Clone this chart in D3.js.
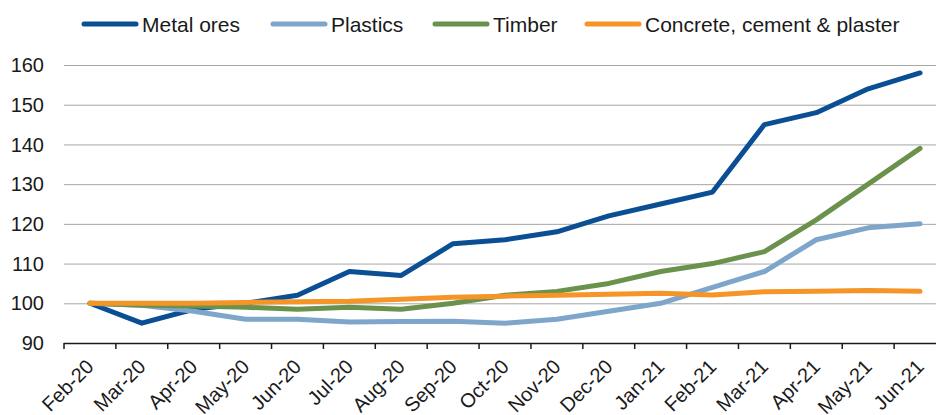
<!DOCTYPE html>
<html>
<head>
<meta charset="utf-8">
<script src="https://cdn.jsdelivr.net/npm/d3@7"></script>
<style>
	body { margin: 0; background: #fff; }
	svg { display: block; font-family: "Liberation Sans", Arial, sans-serif; }
</style>
</head>
<body>
<svg id="chart" width="936" height="415"></svg>
<script>
const months = ["Feb-20", "Mar-20", "Apr-20", "May-20", "Jun-20", "Jul-20", "Aug-20", "Sep-20", "Oct-20",
	"Nov-20", "Dec-20", "Jan-21", "Feb-21", "Mar-21", "Apr-21", "May-21", "Jun-21"];

const metalOres = [100, 95, 98.5, 100, 102, 108, 107, 115, 116, 118, 122, 125, 128, 145, 148, 154, 158];
const plastics = [100, 99.5, 98, 96, 96, 95.3, 95.4, 95.5, 95, 96, 98, 100, 104, 108, 116, 119, 120];
const timber = [100, 99.5, 99.3, 99, 98.5, 99, 98.5, 100, 102, 103, 105, 108, 110, 113, 121, 130, 139];
const concrete = [100, 100, 100, 100.2, 100.4, 100.5, 101, 101.5, 101.8, 102, 102.3, 102.5, 102.1, 102.9, 103, 103.2, 103];

const yTicks = [90, 100, 110, 120, 130, 140, 150, 160];

const series = [
	{name: "Metal ores", values: metalOres, color: "#0a4f93"},
	{name: "Plastics", values: plastics, color: "#7ea6cb"},
	{name: "Timber", values: timber, color: "#6b924c"},
	{name: "Concrete, cement & plaster", values: concrete, color: "#f59427"}
];

const svg = d3.select("#chart");
const plot = {left: 64, right: 946, top: 65, bottom: 343};

const x = d3.scaleBand().domain(months).range([plot.left, plot.right]);
const y = d3.scaleLinear().domain([90, 160]).range([plot.bottom, plot.top]);

// gridlines
svg.append("g")
	.selectAll("line")
	.data(yTicks.filter(d => d > 90))
	.join("line")
	.attr("x1", plot.left).attr("x2", 936)
	.attr("y1", d => y(d) + 0.5).attr("y2", d => y(d) + 0.5)
	.attr("stroke", "#a6a6a6").attr("stroke-width", 1);

// y labels
svg.append("g")
	.selectAll("text")
	.data(yTicks)
	.join("text")
	.attr("x", 44)
	.attr("y", d => y(d))
	.attr("dy", "0.36em")
	.attr("text-anchor", "end")
	.attr("font-size", 20)
	.attr("fill", "#1a1a1a")
	.text(d => d);

// x axis
const xAxis = svg.append("g");
xAxis.append("line")
	.attr("x1", plot.left).attr("x2", plot.right)
	.attr("y1", plot.bottom + 0.5).attr("y2", plot.bottom + 0.5)
	.attr("stroke", "#1a1a1a").attr("stroke-width", 1.5);
xAxis.selectAll("line.tick")
	.data(months)
	.join("line")
	.attr("class", "tick")
	.attr("x1", d => x(d)).attr("x2", d => x(d))
	.attr("y1", plot.bottom).attr("y2", plot.bottom + 6)
	.attr("stroke", "#1a1a1a").attr("stroke-width", 1.5);
xAxis.selectAll("text")
	.data(months)
	.join("text")
	.attr("text-anchor", "end")
	.attr("font-size", 20)
	.attr("fill", "#1a1a1a")
	.attr("transform", d => `translate(${x(d) + x.bandwidth() / 2 + 5},${plot.bottom + 25}) rotate(-45)`)
	.text(d => d);

// lines
const line = d3.line()
	.x((d, i) => x(months[i]) + x.bandwidth() / 2)
	.y(d => y(d));

svg.append("g")
	.selectAll("path")
	.data(series)
	.join("path")
	.attr("d", d => line(d.values))
	.attr("fill", "none")
	.attr("stroke", d => d.color)
	.attr("stroke-width", 5)
	.attr("stroke-linejoin", "round")
	.attr("stroke-linecap", "round");

// legend
const legendX = [82, 271, 433, 585];
const legend = svg.append("g")
	.selectAll("g")
	.data(series)
	.join("g")
	.attr("transform", (d, i) => `translate(${legendX[i]},24)`);
legend.append("line")
	.attr("x1", 2).attr("x2", 54)
	.attr("stroke", d => d.color)
	.attr("stroke-width", 5)
	.attr("stroke-linecap", "round");
legend.append("text")
	.attr("x", 60)
	.attr("dy", "0.36em")
	.attr("font-size", 21)
	.attr("fill", "#1a1a1a")
	.text(d => d.name);
</script>
</body>
</html>
